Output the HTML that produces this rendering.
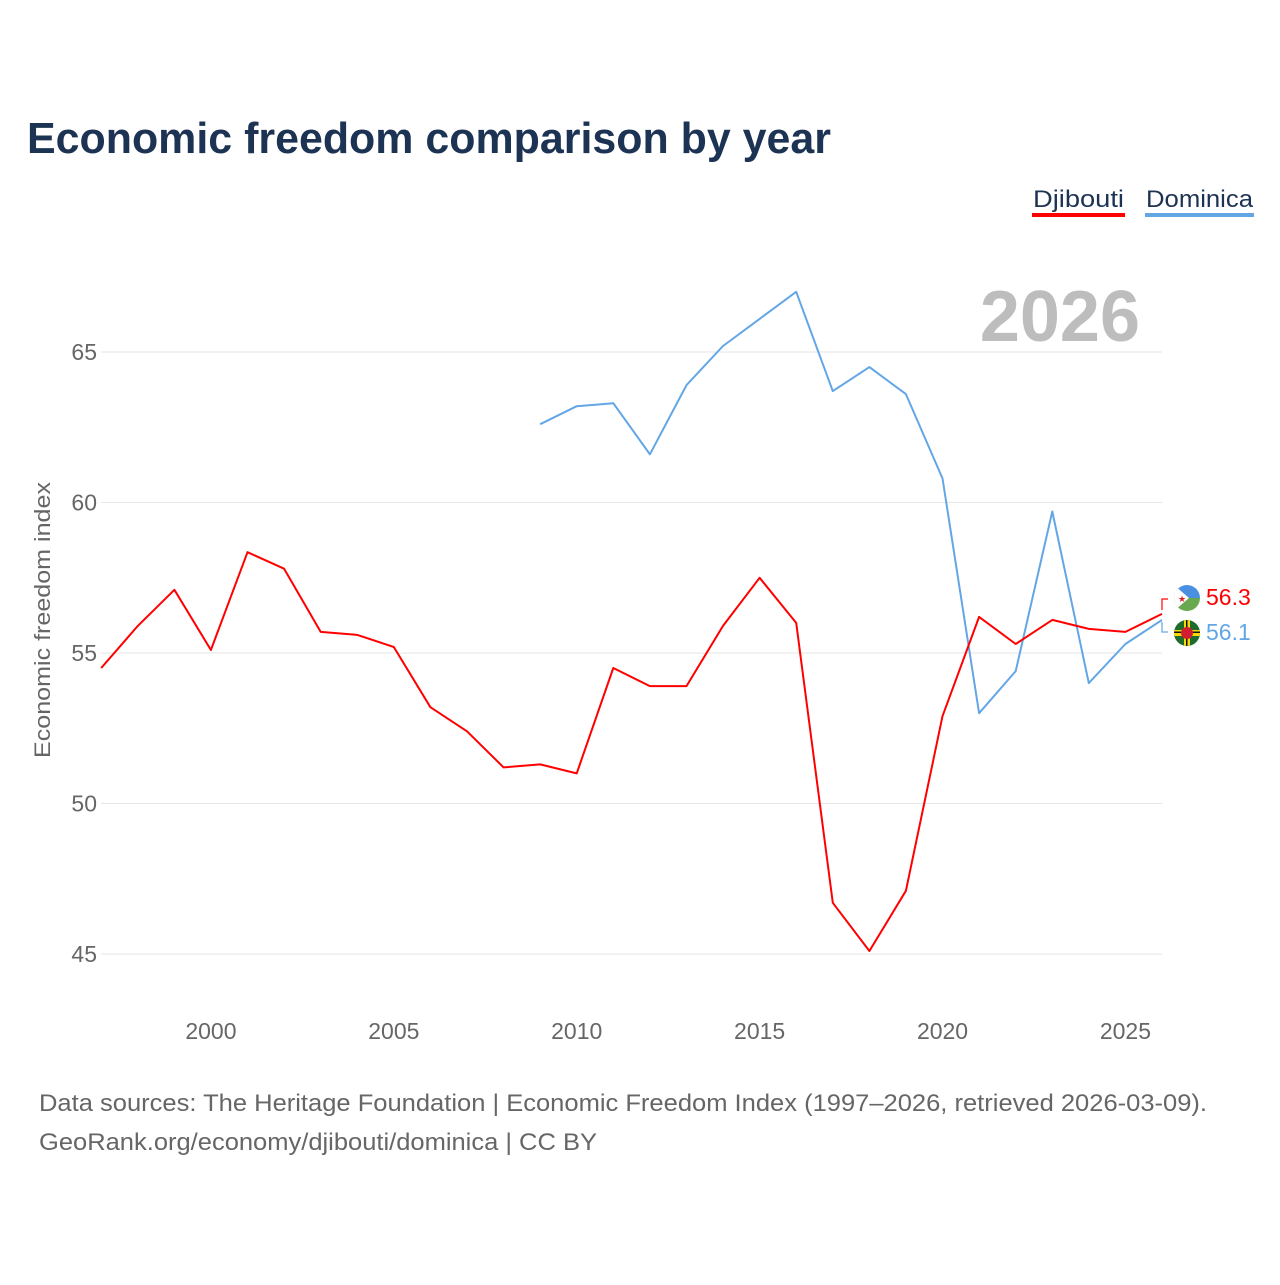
<!DOCTYPE html>
<html><head><meta charset="utf-8">
<style>
body{margin:0;background:#fff;font-family:"Liberation Sans",sans-serif;}
svg text{font-family:"Liberation Sans",sans-serif;}
</style></head>
<body>
<svg width="1280" height="1280" viewBox="0 0 1280 1280" xmlns="http://www.w3.org/2000/svg">
<text x="27" y="153" font-size="44" font-weight="bold" fill="#1d3354" textLength="804" lengthAdjust="spacingAndGlyphs">Economic freedom comparison by year</text>
<g>
 <text x="1033" y="207" font-size="24" fill="#1d3354" textLength="91" lengthAdjust="spacingAndGlyphs">Djibouti</text>
 <rect x="1032" y="213" width="93" height="4" fill="#ff0000"/>
 <text x="1146" y="207" font-size="24" fill="#1d3354" textLength="107" lengthAdjust="spacingAndGlyphs">Dominica</text>
 <rect x="1145" y="213" width="109" height="4" fill="#63a6e6"/>
</g>
<text x="1140" y="341" font-size="72" font-weight="bold" fill="#bdbdbd" text-anchor="end">2026</text>
<text transform="translate(50,620) rotate(-90)" font-size="22" fill="#666" text-anchor="middle" textLength="276" lengthAdjust="spacingAndGlyphs">Economic freedom index</text>
<g id="grid"></g><g id="xt"></g><g id="lines"></g>
<g>
 <path d="M1162 610 L1162 599 L1168 599" fill="none" stroke="#ff0000" stroke-width="1.2"/>
 <path d="M1162 622 L1162 632 L1168 632" fill="none" stroke="#63a6e6" stroke-width="1.2"/>
 <g>
  <clipPath id="c1"><circle cx="1187" cy="598" r="13"/></clipPath>
  <g clip-path="url(#c1)"><rect x="1174" y="585" width="26" height="13" fill="#4a90e2"/><rect x="1174" y="598" width="26" height="13" fill="#6aa84f"/><path d="M1174 585 L1189 598 L1174 611Z" fill="#fff"/></g>
  <text x="1178" y="602" font-size="9" fill="#e02020">★</text>
 </g>
 <g>
  <clipPath id="c2"><circle cx="1187" cy="633" r="13"/></clipPath>
  <g clip-path="url(#c2)"><rect x="1174" y="620" width="26" height="26" fill="#1f6b2c"/><rect x="1174" y="630" width="26" height="6" fill="#f5d90a"/><rect x="1184" y="620" width="6" height="26" fill="#f5d90a"/><rect x="1174" y="631.5" width="26" height="1.5" fill="#111"/><rect x="1186" y="620" width="1.5" height="26" fill="#111"/><circle cx="1187" cy="633" r="6" fill="#d41c30"/></g>
 </g>
 <text x="1206" y="605" font-size="23" fill="#ff0000">56.3</text>
 <text x="1206" y="640" font-size="23" fill="#63a6e6">56.1</text>
</g>
<text x="39" y="1111" font-size="24" fill="#666" textLength="1168" lengthAdjust="spacingAndGlyphs">Data sources: The Heritage Foundation | Economic Freedom Index (1997–2026, retrieved 2026-03-09).</text>
<text x="39" y="1150" font-size="24" fill="#666" textLength="558" lengthAdjust="spacingAndGlyphs">GeoRank.org/economy/djibouti/dominica | CC BY</text>
</svg>
<script>
const years=[1997,1998,1999,2000,2001,2002,2003,2004,2005,2006,2007,2008,2009,2010,2011,2012,2013,2014,2015,2016,2017,2018,2019,2020,2021,2022,2023,2024,2025,2026];
const djibouti=[54.5,55.9,57.1,55.1,58.35,57.8,55.7,55.6,55.2,53.2,52.4,51.2,51.3,51.0,54.5,53.9,53.9,55.9,57.5,56.0,46.7,45.1,47.1,52.9,56.2,55.3,56.1,55.8,55.7,56.3];
const dominica=[null,null,null,null,null,null,null,null,null,null,null,null,62.6,63.2,63.3,61.6,63.9,65.2,66.1,67.0,63.7,64.5,63.6,60.8,53.0,54.4,59.7,54.0,55.3,56.1];
const yTicks=[45,50,55,60,65];
const xTicks=[2000,2005,2010,2015,2020,2025];
const NS="http://www.w3.org/2000/svg";
const xs=y=>101.2+(y-1997)*(1162-101.2)/29;
const ys=v=>653-(v-55)*30.1;
function mk(t,a,p){const e=document.createElementNS(NS,t);for(const k in a)e.setAttribute(k,a[k]);p.appendChild(e);return e;}
const grid=document.getElementById('grid');
yTicks.forEach(v=>{
 const l=mk('line',{x1:101,x2:1162,y1:ys(v),y2:ys(v),stroke:'#e6e6e6','stroke-width':1},grid);
 
 
 const t=mk('text',{x:97,y:ys(v)+8,'font-size':23,fill:'#666','text-anchor':'end'},grid);
 t.textContent=v;
 
 
});
const xt=document.getElementById('xt');
xTicks.forEach(v=>{
 const t=mk('text',{x:xs(v),y:1039,'font-size':23,fill:'#666','text-anchor':'middle'},xt);
 t.textContent=v;
 
 
});
const lines=document.getElementById('lines');
function draw(vals,color,name){
 let d='';vals.forEach((v,i)=>{if(v==null)return;d+=(d?'L':'M')+xs(years[i]).toFixed(1)+' '+ys(v).toFixed(1);});
 const p=mk('path',{d:d,fill:'none',stroke:color,'stroke-width':2,'stroke-linejoin':'round'},lines);
 
 
}
draw(dominica,'#63a6e6','dominica-line');
draw(djibouti,'#ff0000','djibouti-line');
</script>
</body></html>
